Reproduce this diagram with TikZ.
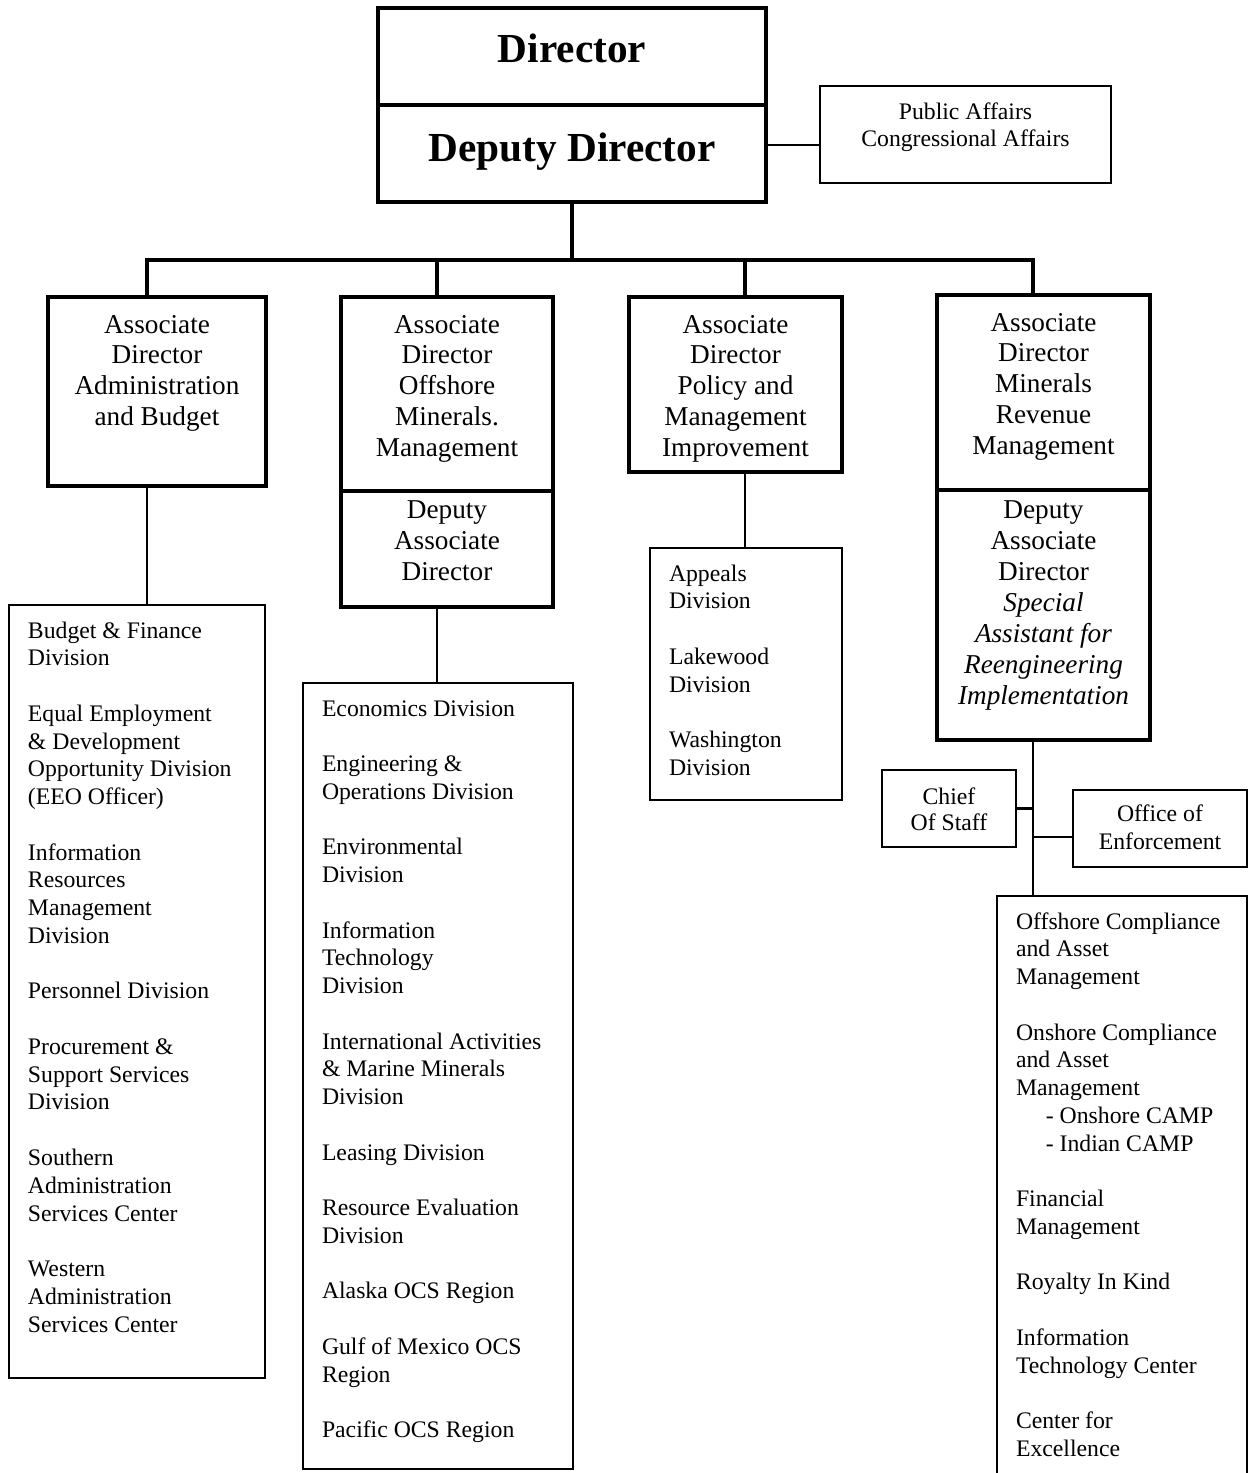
\documentclass[tikz,border=0pt]{standalone}
\usepackage{fontspec}
\setmainfont{Liberation Serif}
\newdimen\px \px=0.02cm
\newcommand{\cbox}[4]{\parbox[c][#2\px][t]{#1\px}{\centering\rule{0pt}{#3}#4}}
\newcommand{\lbox}[4]{\parbox[c][#2\px][t]{#1\px}{\raggedright\rule{0pt}{#3}#4}}

\begin{document}
\begin{tikzpicture}[x=0.02cm,y=-0.02cm,
                    topbox/.style={draw,line width=2.3pt,inner sep=0pt,
                                   font=\fontsize{23.5}{28}\selectfont\bfseries},
                    adbox/.style={draw,line width=1.9pt,inner sep=0pt,
                                  font=\fontsize{15.5}{17.6}\selectfont},
                    listbox/.style={draw,line width=1.4pt,inner ysep=0pt,inner xsep=19\px,
                                    font=\fontsize{13.5}{15.8}\selectfont},
                    smallbox/.style={draw,line width=1.5pt,inner sep=0pt,
                                     font=\fontsize{13.5}{15.9}\selectfont},
                    bus/.style={line width=2.5pt,line cap=rect},
                    link/.style={line width=1.3pt}]
  \useasboundingbox (0,0) rectangle (1249,1473);
  \clip (0,0) rectangle (1249,1473);

  % top of the chart
  \node[topbox] (director) at (572,56.5) {\cbox{388}{97}{31.3pt}{Director}};
  \node[topbox] (deputy) at (572,153.5) {\cbox{388}{97}{31.9pt}{Deputy Director}};
  \node[smallbox] (public) at (965.5,134.5)
    {\cbox{291}{97}{18.8pt}{Public Affairs\\Congressional Affairs}};
  \coordinate (pa) at (0,145);
  \draw[link] (deputy.east |- pa) -- (public.west |- pa);

  % bus to the associate directors
  \coordinate (b1) at (147,260);
  \coordinate (b2) at (437,260);
  \coordinate (b3) at (745,260);
  \coordinate (b4) at (1033,260);

  \node[adbox] (ad1) at (157,391.5)
    {\cbox{218}{189}{20.5pt}{Associate\\Director\\Administration\\and Budget}};
  \node[adbox] (ad2) at (447,394)
    {\cbox{212}{194}{20.5pt}{Associate\\Director\\Offshore\\Minerals.\\Management}};
  \node[adbox] (dep2) at (447,549)
    {\cbox{212}{116}{15.9pt}{Deputy\\Associate\\Director}};
  \node[adbox] (ad3) at (735.5,384.5)
    {\cbox{213}{175}{20.5pt}{Associate\\Director\\Policy and\\Management\\Improvement}};
  \node[adbox] (ad4) at (1043.5,392.5)
    {\cbox{213}{195}{20.5pt}{Associate\\Director\\Minerals\\Revenue\\Management}};
  \node[adbox] (dep4) at (1043.5,615)
    {\cbox{213}{250}{16.5pt}{Deputy\\Associate\\Director\\\textit{Special}\\
      \textit{Assistant for}\\\textit{Reengineering}\\\textit{Implementation}}};

  \draw[bus] (deputy.south) -- (deputy.south |- b1);
  \draw[bus] (b1) -- (b4);
  \draw[bus] (b1) -- (ad1.north -| b1);
  \draw[bus] (b2) -- (ad2.north -| b2);
  \draw[bus] (b3) -- (ad3.north -| b3);
  \draw[bus] (b4) -- (ad4.north -| b4);

  % divisions
  \node[listbox] (list1) at (137,991.5)
    {\lbox{218}{773}{18.8pt}{Budget \& Finance\\Division\\[\baselineskip]
      Equal Employment\\\& Development\\Opportunity Division\\(EEO Officer)\\[\baselineskip]
      Information\\Resources\\Management\\Division\\[\baselineskip]
      Personnel Division\\[\baselineskip]
      Procurement \&\\Support Services\\Division\\[\baselineskip]
      Southern\\Administration\\Services Center\\[\baselineskip]
      Western\\Administration\\Services Center}};
  \node[listbox] (list2) at (438,1076)
    {\lbox{232}{786}{18.8pt}{Economics Division\\[\baselineskip]
      Engineering \&\\Operations Division\\[\baselineskip]
      Environmental\\Division\\[\baselineskip]
      Information\\Technology\\Division\\[\baselineskip]
      International Activities\\\& Marine Minerals\\Division\\[\baselineskip]
      Leasing Division\\[\baselineskip]
      Resource Evaluation\\Division\\[\baselineskip]
      Alaska OCS Region\\[\baselineskip]
      Gulf of Mexico OCS\\Region\\[\baselineskip]
      Pacific OCS Region}};
  \node[listbox] (list3) at (746,674)
    {\lbox{154}{252}{18.8pt}{Appeals\\Division\\[\baselineskip]
      Lakewood\\Division\\[\baselineskip]
      Washington\\Division}};
  \node[listbox] (list4) at (1122,1193)
    {\lbox{212}{594}{18.8pt}{Offshore Compliance\\and Asset\\Management\\[\baselineskip]
      Onshore Compliance\\and Asset\\Management\\
      \hspace*{17pt}- Onshore CAMP\\\hspace*{17pt}- Indian CAMP\\[\baselineskip]
      Financial\\Management\\[\baselineskip]
      Royalty In Kind\\[\baselineskip]
      Information\\Technology Center\\[\baselineskip]
      Center for\\Excellence}};

  \node[smallbox] (chief) at (949,808.5)
    {\cbox{134}{77}{19.9pt}{\fontsize{13.5}{14.5}\selectfont Chief\\Of Staff}};
  \node[smallbox] (enforce) at (1160,828.5)
    {\cbox{174}{77}{18.2pt}{Office of\\Enforcement}};
  \coordinate (oe) at (0,837);

  \draw[link] (ad1.south -| b1) -- (list1.north -| b1);
  \draw[link] (dep2.south -| b2) -- (list2.north -| b2);
  \draw[link] (ad3.south -| b3) -- (list3.north -| b3);
  \draw[link] (dep4.south -| b4) -- (list4.north -| b4);
  \draw[link] (chief.east) -- (chief.east -| b4);
  \draw[link] (enforce.west |- oe) -- (b4 |- oe);
\end{tikzpicture}
\end{document}
